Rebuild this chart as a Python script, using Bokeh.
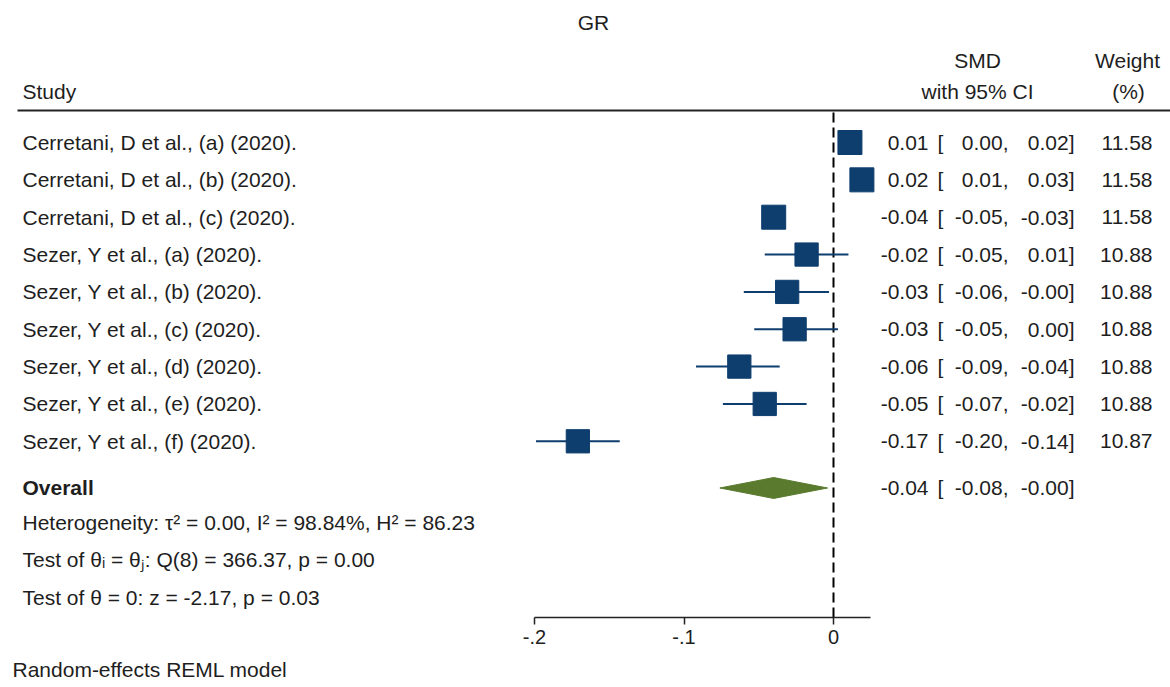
from bokeh.plotting import figure
from bokeh.layouts import column
from bokeh.models import Range1d, LinearAxis, FixedTicker, ColumnDataSource
from bokeh.core.properties import value
from bokeh.embed import file_html
from bokeh.resources import INLINE
import math

# ---------------- data ----------------
studies = [
    "Cerretani, D et al., (a) (2020).",
    "Cerretani, D et al., (b) (2020).",
    "Cerretani, D et al., (c) (2020).",
    "Sezer, Y et al., (a) (2020).",
    "Sezer, Y et al., (b) (2020).",
    "Sezer, Y et al., (c) (2020).",
    "Sezer, Y et al., (d) (2020).",
    "Sezer, Y et al., (e) (2020).",
    "Sezer, Y et al., (f) (2020).",
]
smd = [0.011, 0.019, -0.040, -0.018, -0.031, -0.026, -0.063, -0.046, -0.171]
ci_lo = [0.004, 0.012, -0.047, -0.046, -0.060, -0.053, -0.092, -0.074, -0.199]
ci_hi = [0.018, 0.026, -0.033, 0.010, -0.003, 0.003, -0.036, -0.018, -0.143]
weights = [11.58, 11.58, 11.58, 10.88, 10.88, 10.88, 10.88, 10.88, 10.87]

overall_smd = -0.040
overall_lo = -0.076
overall_hi = -0.004

axis_ticks = [-0.2, -0.1, 0.0]
axis_tick_labels = ["-.2", "-.1", "0"]

title_text = "GR"
het_lines = [
    "Heterogeneity: \u03c4\u00b2 = 0.00, I\u00b2 = 98.84%, H\u00b2 = 86.23",
    "Test of \u03b8\u1d62 = \u03b8\u2c7c: Q(8) = 366.37, p = 0.00",
    "Test of \u03b8 = 0: z = -2.17, p = 0.03",
]
footer_text = "Random-effects REML model"

# ---------------- style ----------------
FONT = "Liberation Sans"
FS = "21px"
TXT = "#1e1e1e"
NAVY = "#0e3e6e"
OLIVE = "#5a7a2e"

W, H = 1170, 687
AXIS_Y = 617          # reference-pixel y of the axis line
MAIN_H = 657          # height of the main figure; footer strip below
ROW0, ROWH = 142.0, 37.35  # reference-pixel y of first row and row pitch


def ref_to_row(yref):
    return (yref - ROW0) / ROWH


x0 = -833 / 1495.0
x1 = (W - 833) / 1495.0

p = figure(width=W, height=MAIN_H, output_backend="svg", toolbar_location=None,
           x_range=Range1d(x0, x1),
           y_range=Range1d(ref_to_row(AXIS_Y), ref_to_row(0)),
           x_axis_location=None, y_axis_location=None,
           min_border_left=0, min_border_right=0, min_border_top=0,
           min_border_bottom=MAIN_H - AXIS_Y)
p.extra_x_ranges = {"px": Range1d(0, W)}
p.extra_y_ranges = {"py": Range1d(AXIS_Y, 0)}
p.grid.visible = False
p.outline_line_color = None
p.background_fill_color = "white"
p.border_fill_color = "white"

n = len(studies)
rows = list(range(n))
sizes = [24 * math.sqrt(w / max(weights)) for w in weights]
src = ColumnDataSource(dict(
    y=rows, smd=smd, lo=ci_lo, hi=ci_hi, size=sizes, study=studies,
    est_s=[f"{v:.2f}" for v in smd],
    lo_s=[f"{v:.2f}," for v in ci_lo],
    hi_s=[f"{v:.2f}]" for v in ci_hi],
    w_s=[f"{v:.2f}" for v in weights],
    br=["["] * n,
))

# axis
ax = LinearAxis(ticker=FixedTicker(ticks=axis_ticks),
                major_label_overrides={t: l for t, l in zip(axis_ticks, axis_tick_labels)},
                bounds=(-0.2, 0.025))
ax.axis_line_color = "#222222"
ax.axis_line_width = 1.5
ax.major_tick_line_color = "#222222"
ax.major_tick_line_width = 1.5
ax.major_tick_out = 7
ax.major_tick_in = 0
ax.minor_tick_out = 0
ax.minor_tick_in = 0
ax.major_label_standoff = 5
ax.major_label_text_font = FONT
ax.major_label_text_font_size = "20px"
ax.major_label_text_color = TXT
p.add_layout(ax, "below")

# header line
p.segment(x0=17, y0=110, x1=W, y1=110, line_color="#222222", line_width=2,
          x_range_name="px", y_range_name="py")

# null line
p.segment(x0=0, y0=ref_to_row(112), x1=0, y1=ref_to_row(AXIS_Y), line_color="black",
          line_width=2, line_dash="10 5")

# CIs and squares
p.segment(x0="lo", y0="y", x1="hi", y1="y", source=src, line_color=NAVY, line_width=2)
p.scatter(x="smd", y="y", size="size", marker="square", source=src,
          fill_color=NAVY, line_color=NAVY)

# overall diamond
yo = n + 0.25
dh = 0.28
p.patch(x=[overall_lo, overall_smd, overall_hi, overall_smd],
        y=[yo, yo - dh, yo, yo + dh], fill_color=OLIVE, line_color=OLIVE)

common = dict(text_font=value(FONT), text_font_size=FS, text_color=TXT,
              text_baseline="middle")

# study rows
p.text(x=22, y="y", text="study", source=src, x_range_name="px", text_align="left", **common)
p.text(x=928, y="y", text="est_s", source=src, x_range_name="px", text_align="right", **common)
p.text(x=937, y="y", text="br", source=src, x_range_name="px", text_align="left", **common)
p.text(x=1008, y="y", text="lo_s", source=src, x_range_name="px", text_align="right", **common)
p.text(x=1074, y="y", text="hi_s", source=src, x_range_name="px", text_align="right", **common)
p.text(x=1152, y="y", text="w_s", source=src, x_range_name="px", text_align="right", **common)

# overall row text
p.text(x=[22], y=[yo], text=["Overall"], x_range_name="px", text_align="left",
       text_font_style="bold", **common)
p.text(x=[928], y=[yo], text=[f"{overall_smd:.2f}"], x_range_name="px", text_align="right", **common)
p.text(x=[937], y=[yo], text=["["], x_range_name="px", text_align="left", **common)
p.text(x=[1008], y=[yo], text=[f"{overall_lo:.2f},"], x_range_name="px", text_align="right", **common)
p.text(x=[1074], y=[yo], text=[f"{overall_hi:.2f}]"], x_range_name="px", text_align="right", **common)

# heterogeneity lines
p.text(x=[22, 22, 22], y=[522, 559, 597], text=het_lines, x_range_name="px",
       y_range_name="py", text_align="left", **common)

# headers
p.text(x=[593], y=[22], text=[title_text], x_range_name="px", y_range_name="py",
       text_align="center", **common)
p.text(x=[22], y=[91], text=["Study"], x_range_name="px", y_range_name="py",
       text_align="left", **common)
p.text(x=[977, 977, 1127, 1128], y=[60, 91, 60, 91],
       text=["SMD", "with 95% CI", "Weight", "(%)"], x_range_name="px", y_range_name="py",
       text_align="center", **common)

# footer strip
FOOT_H = H - MAIN_H
f = figure(width=W, height=FOOT_H, output_backend="svg", toolbar_location=None,
           x_range=Range1d(0, W), y_range=Range1d(H, MAIN_H),
           x_axis_location=None, y_axis_location=None,
           min_border=0)
f.grid.visible = False
f.outline_line_color = None
f.background_fill_color = "white"
f.border_fill_color = "white"
f.text(x=[12], y=[669], text=[footer_text], text_align="left", **common)

layout = column(p, f, spacing=0)
open("out.html", "w").write(file_html(layout, INLINE))
